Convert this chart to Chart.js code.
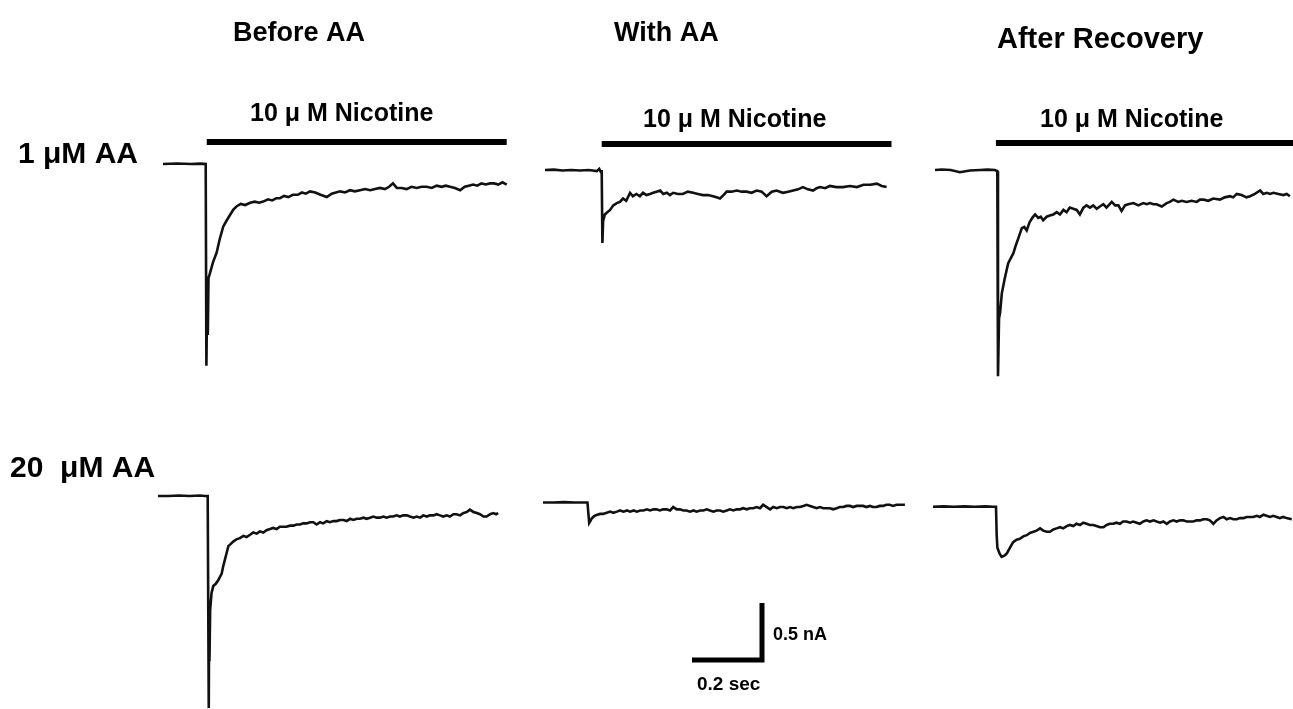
<!DOCTYPE html>
<html>
<head>
<meta charset="utf-8">
<title>Nicotine currents with AA</title>
<script src="https://cdn.jsdelivr.net/npm/chart.js@4/dist/chart.umd.min.js"></script>
<style>
  html, body { margin: 0; padding: 0; background: #fff; }
  #wrap { position: relative; width: 1293px; height: 709px; }
</style>
</head>
<body>
<div id="wrap"><canvas id="traces" width="1293" height="709"></canvas></div>
<script>
// recorded currents, [time ms, current nA] relative to holding level
const before1 = [[0,0],[40,0.005],[80,0],[106,0.003],[122,0],[124,-1.77],[126,-1.2],[128,-1.5],[130,-1.0],[134,-0.96],[143,-0.86],[153,-0.78],[162,-0.66],[172,-0.55],[181,-0.5],[191,-0.45],[201,-0.40],[211,-0.37],[222,-0.35],[235,-0.36],[249,-0.34],[262,-0.33],[275,-0.34],[286,-0.33],[300,-0.31],[312,-0.32],[324,-0.30],[334,-0.30],[346,-0.28],[358,-0.29],[371,-0.27],[385,-0.27],[397,-0.25],[408,-0.26],[420,-0.24],[435,-0.25],[450,-0.27],[468,-0.29],[482,-0.26],[494,-0.25],[506,-0.24],[520,-0.25],[534,-0.23],[548,-0.24],[563,-0.23],[577,-0.22],[592,-0.23],[606,-0.22],[620,-0.21],[634,-0.22],[646,-0.20],[657,-0.17],[668,-0.21],[682,-0.21],[696,-0.22],[710,-0.20],[725,-0.21],[739,-0.20],[753,-0.20],[768,-0.21],[782,-0.19],[796,-0.20],[808,-0.19],[820,-0.20],[834,-0.21],[849,-0.23],[862,-0.20],[874,-0.19],[886,-0.18],[898,-0.19],[910,-0.17],[922,-0.18],[934,-0.17],[946,-0.17],[958,-0.18],[970,-0.16],[982,-0.18]];
const withAA1 = [[0,0],[25,0.003],[50,-0.005],[75,0],[100,-0.005],[125,0],[148,-0.01],[155,0.01],[160,-0.02],[162,0],[164,-0.64],[166,-0.45],[171,-0.39],[178,-0.37],[186,-0.35],[195,-0.31],[205,-0.29],[214,-0.28],[223,-0.25],[232,-0.27],[243,-0.20],[251,-0.23],[261,-0.21],[271,-0.23],[280,-0.20],[290,-0.22],[300,-0.21],[309,-0.20],[319,-0.19],[329,-0.18],[338,-0.21],[348,-0.20],[357,-0.22],[366,-0.20],[380,-0.21],[394,-0.21],[408,-0.19],[423,-0.20],[437,-0.21],[451,-0.22],[466,-0.22],[480,-0.23],[490,-0.24],[500,-0.25],[510,-0.22],[519,-0.19],[533,-0.19],[548,-0.18],[562,-0.19],[576,-0.19],[590,-0.20],[605,-0.18],[619,-0.19],[633,-0.23],[648,-0.19],[662,-0.18],[671,-0.19],[680,-0.20],[695,-0.19],[709,-0.18],[723,-0.17],[737,-0.15],[751,-0.17],[766,-0.18],[776,-0.16],[786,-0.15],[800,-0.16],[814,-0.14],[832,-0.15],[851,-0.15],[871,-0.14],[891,-0.15],[910,-0.13],[929,-0.13],[948,-0.12],[962,-0.14],[976,-0.15]];
const after1 = [[0,0],[20,0.005],[45,0],[71,-0.02],[100,-0.005],[129,0],[150,0.003],[171,0],[178,-0.01],[180,-1.81],[183,-1.3],[186,-1.25],[191,-1.08],[200,-0.94],[209,-0.82],[217,-0.77],[224,-0.73],[231,-0.66],[238,-0.60],[248,-0.51],[255,-0.50],[262,-0.53],[270,-0.46],[278,-0.42],[286,-0.39],[295,-0.42],[302,-0.41],[309,-0.44],[319,-0.41],[328,-0.40],[338,-0.39],[348,-0.37],[357,-0.39],[367,-0.35],[376,-0.37],[385,-0.33],[395,-0.34],[405,-0.35],[414,-0.39],[424,-0.33],[433,-0.31],[443,-0.33],[452,-0.31],[462,-0.34],[471,-0.32],[481,-0.30],[490,-0.33],[505,-0.28],[515,-0.31],[524,-0.31],[533,-0.36],[543,-0.31],[552,-0.30],[567,-0.29],[581,-0.31],[595,-0.29],[605,-0.30],[614,-0.29],[624,-0.30],[633,-0.30],[648,-0.32],[662,-0.29],[671,-0.28],[681,-0.26],[695,-0.28],[705,-0.27],[719,-0.28],[733,-0.27],[748,-0.28],[757,-0.26],[767,-0.26],[781,-0.27],[795,-0.25],[814,-0.26],[828,-0.24],[843,-0.23],[852,-0.24],[862,-0.21],[876,-0.22],[890,-0.24],[900,-0.23],[914,-0.21],[929,-0.18],[938,-0.21],[948,-0.20],[957,-0.21],[967,-0.20],[981,-0.21],[995,-0.22],[1005,-0.21],[1014,-0.23]];
const before20 = [[0,0],[30,0],[60,0.005],[90,0],[120,0.005],[134,0],[142,0],[145,-1.86],[146,-1.2],[147,-1.45],[149,-1.0],[153,-0.85],[158,-0.79],[165,-0.77],[172,-0.74],[182,-0.68],[186,-0.62],[191,-0.56],[196,-0.50],[201,-0.44],[208,-0.42],[215,-0.40],[224,-0.38],[234,-0.37],[244,-0.35],[253,-0.36],[263,-0.34],[272,-0.32],[282,-0.33],[291,-0.31],[301,-0.32],[310,-0.30],[320,-0.29],[329,-0.28],[339,-0.29],[348,-0.27],[358,-0.27],[367,-0.27],[377,-0.26],[387,-0.26],[396,-0.25],[406,-0.25],[415,-0.24],[425,-0.24],[434,-0.23],[444,-0.23],[453,-0.25],[463,-0.23],[472,-0.24],[482,-0.22],[491,-0.23],[501,-0.22],[510,-0.22],[520,-0.21],[530,-0.21],[539,-0.22],[549,-0.20],[558,-0.21],[568,-0.20],[577,-0.20],[587,-0.19],[596,-0.20],[606,-0.19],[615,-0.18],[625,-0.19],[634,-0.19],[644,-0.18],[653,-0.19],[663,-0.18],[672,-0.18],[682,-0.17],[691,-0.18],[701,-0.17],[711,-0.17],[720,-0.18],[730,-0.19],[739,-0.18],[749,-0.19],[758,-0.17],[768,-0.18],[777,-0.17],[787,-0.17],[796,-0.16],[806,-0.17],[815,-0.18],[825,-0.17],[834,-0.18],[844,-0.16],[853,-0.16],[863,-0.17],[872,-0.15],[882,-0.14],[891,-0.12],[901,-0.14],[911,-0.15],[920,-0.16],[930,-0.18],[939,-0.18],[949,-0.16],[958,-0.15],[966,-0.16],[972,-0.15]];
const withAA20 = [[0,0],[30,0],[60,0.003],[90,0],[120,0],[127,0],[132,-0.18],[136,-0.16],[139,-0.14],[146,-0.12],[153,-0.11],[163,-0.10],[172,-0.10],[182,-0.09],[192,-0.08],[201,-0.09],[211,-0.08],[220,-0.07],[230,-0.08],[240,-0.07],[249,-0.08],[259,-0.07],[268,-0.08],[278,-0.07],[287,-0.07],[297,-0.06],[306,-0.07],[316,-0.06],[324,-0.06],[334,-0.07],[343,-0.06],[353,-0.06],[363,-0.07],[372,-0.04],[382,-0.06],[391,-0.06],[401,-0.07],[410,-0.07],[420,-0.08],[430,-0.07],[439,-0.08],[449,-0.07],[458,-0.07],[468,-0.06],[477,-0.07],[487,-0.08],[496,-0.07],[506,-0.07],[515,-0.08],[525,-0.07],[534,-0.06],[544,-0.07],[553,-0.06],[563,-0.06],[572,-0.05],[582,-0.06],[591,-0.05],[601,-0.05],[610,-0.04],[620,-0.05],[629,-0.02],[639,-0.04],[649,-0.06],[658,-0.04],[668,-0.05],[677,-0.04],[687,-0.04],[696,-0.05],[706,-0.04],[715,-0.05],[725,-0.04],[734,-0.04],[744,-0.03],[753,-0.02],[763,-0.03],[772,-0.04],[782,-0.05],[791,-0.04],[801,-0.05],[810,-0.05],[820,-0.05],[829,-0.06],[839,-0.05],[848,-0.04],[858,-0.04],[867,-0.03],[877,-0.03],[886,-0.04],[896,-0.03],[905,-0.03],[915,-0.03],[924,-0.04],[934,-0.03],[943,-0.04],[953,-0.04],[962,-0.03],[972,-0.03],[981,-0.02],[991,-0.02],[1000,-0.03],[1010,-0.02],[1020,-0.02],[1034,-0.02]];
const after20 = [[0,0],[30,0.003],[60,0],[90,0.003],[120,0],[150,0.003],[172,0],[180,0],[182,-0.25],[184,-0.36],[190,-0.41],[196,-0.44],[204,-0.43],[211,-0.41],[220,-0.36],[229,-0.31],[239,-0.29],[249,-0.28],[258,-0.26],[268,-0.25],[277,-0.23],[287,-0.22],[296,-0.21],[306,-0.19],[315,-0.21],[325,-0.22],[334,-0.22],[344,-0.20],[353,-0.19],[363,-0.18],[372,-0.19],[382,-0.17],[391,-0.16],[401,-0.17],[410,-0.15],[420,-0.16],[429,-0.14],[439,-0.15],[448,-0.16],[458,-0.16],[467,-0.17],[477,-0.18],[487,-0.18],[496,-0.16],[505,-0.15],[515,-0.15],[524,-0.14],[534,-0.15],[543,-0.13],[553,-0.13],[563,-0.14],[572,-0.13],[582,-0.14],[591,-0.15],[601,-0.13],[610,-0.12],[620,-0.13],[630,-0.12],[639,-0.13],[649,-0.14],[658,-0.13],[668,-0.15],[677,-0.13],[687,-0.12],[696,-0.13],[706,-0.12],[715,-0.12],[725,-0.13],[734,-0.13],[744,-0.13],[753,-0.12],[763,-0.12],[772,-0.11],[782,-0.11],[791,-0.12],[801,-0.15],[810,-0.12],[820,-0.10],[830,-0.09],[839,-0.11],[849,-0.10],[858,-0.11],[868,-0.11],[877,-0.10],[887,-0.10],[896,-0.09],[906,-0.09],[915,-0.09],[925,-0.08],[934,-0.09],[944,-0.07],[953,-0.08],[963,-0.09],[972,-0.08],[982,-0.09],[991,-0.10],[1001,-0.09],[1010,-0.10],[1025,-0.11]];

// nicotine application (top row), ms
const nicotineOn = [125, 162, 174];
const nicotineOff = [982, 990, 1023];

// column / row labels
const columnTitles = ['Before AA', 'With AA', 'After Recovery'];
const rowTitles = ['1 \u03bcM AA', '20  \u03bcM AA'];
const drugLabel = '10 \u03bc M Nicotine';

// calibration
const scaleTime = 200;   // ms
const scaleCurrent = 0.5; // nA

// ---- layout (pixels) ----
const W = 1293, H = 709;
const pxPerMs = 0.35, pxPerNA = 114;
const origins = [ // trace start x, holding level y
  [163, 164], [545, 170], [935, 170],
  [158, 496], [543, 502.5], [933, 506.7]
];
const barLift = [22, 26, 27];      // nicotine bar height above holding level
const scaleCorner = [762, 660];

const traces = [before1, withAA1, after1, before20, withAA20, after20];

function toPage(idx, t, i) {
  const o = origins[idx];
  return { x: t + o[0] / pxPerMs, y: i - o[1] / pxPerNA };
}

const datasets = traces.map((tr, k) => ({
  data: tr.map(p => toPage(k, p[0], p[1])),
  borderColor: '#111',
  borderWidth: 2.6
}));

// nicotine bars
nicotineOn.forEach((on, k) => {
  const lift = barLift[k] / pxPerNA;
  datasets.push({
    data: [toPage(k, on, lift), toPage(k, nicotineOff[k], lift)],
    borderColor: '#000',
    borderWidth: 6,
    borderCapStyle: 'butt'
  });
});

// calibration bar
const cx = scaleCorner[0] / pxPerMs, cy = -scaleCorner[1] / pxPerNA;
datasets.push({
  data: [{ x: cx - scaleTime, y: cy }, { x: cx, y: cy }, { x: cx, y: cy + scaleCurrent }],
  borderColor: '#000',
  borderWidth: 5,
  borderCapStyle: 'butt',
  borderJoinStyle: 'miter'
});

// text labels drawn on the canvas
const texts = [
  [columnTitles[0], 233, 41, 27],
  [columnTitles[1], 614, 41, 27],
  [columnTitles[2], 997, 48, 29],
  [drugLabel, 250, 121, 25],
  [drugLabel, 643, 127, 25],
  [drugLabel, 1040, 127, 25],
  [rowTitles[0], 18, 163, 30],
  [rowTitles[1], 10, 477, 30],
  [scaleCurrent + ' nA', 773, 640, 18],
  [(scaleTime / 1000) + ' sec', 697, 690, 19]
];

const labelPlugin = {
  id: 'labels',
  afterDraw(chart) {
    const ctx = chart.ctx;
    ctx.save();
    ctx.fillStyle = '#000';
    ctx.textBaseline = 'alphabetic';
    texts.forEach(([s, x, y, size]) => {
      ctx.font = 'bold ' + size + 'px "Liberation Sans", Arial, sans-serif';
      ctx.fillText(s, x, y);
    });
    ctx.restore();
  }
};

new Chart(document.getElementById('traces'), {
  type: 'scatter',
  data: { datasets },
  options: {
    responsive: false,
    animation: false,
    showLine: true,
    layout: { padding: 0 },
    elements: { point: { radius: 0, hoverRadius: 0 }, line: { tension: 0 } },
    plugins: { legend: { display: false }, tooltip: { enabled: false } },
    scales: {
      x: { type: 'linear', display: false, min: 0, max: W / pxPerMs },
      y: { type: 'linear', display: false, min: -H / pxPerNA, max: 0 }
    }
  },
  plugins: [labelPlugin]
});
</script>
</body>
</html>
